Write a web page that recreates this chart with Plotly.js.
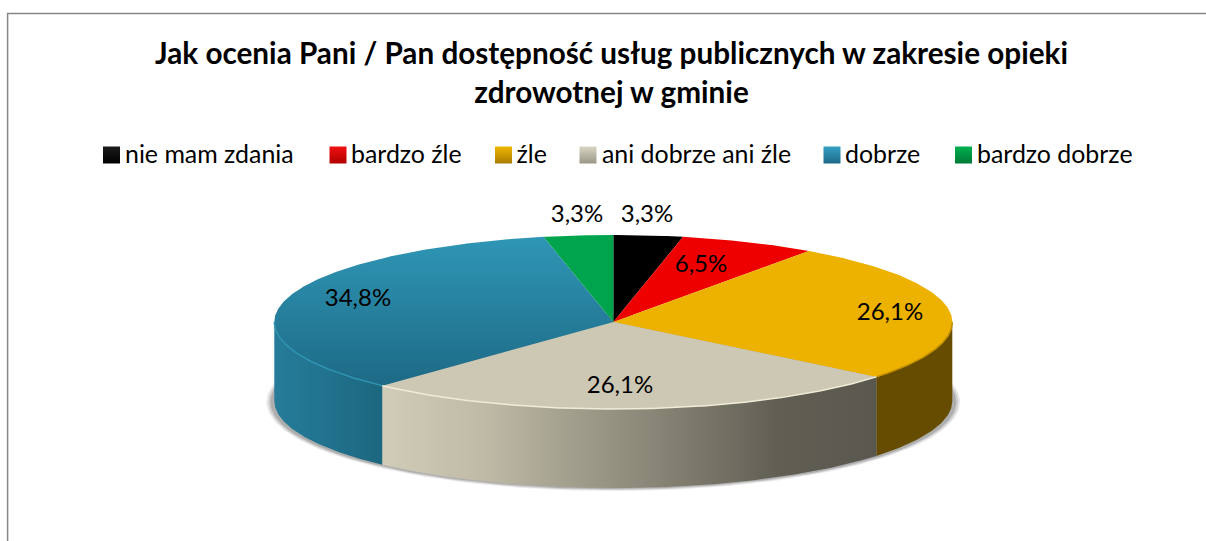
<!DOCTYPE html>
<html><head><meta charset="utf-8">
<script src="https://cdn.plot.ly/plotly-3.0.1.min.js"></script>
<style>html,body{margin:0;padding:0;background:#fff}#c{width:1206px;height:541px}</style>
</head><body><div id="c"></div>
<script>
const categories = ["nie mam zdania","bardzo źle","źle","ani dobrze ani źle","dobrze","bardzo dobrze"];
const values = [3.3,6.5,26.1,26.1,34.8,3.3];
const topColors = ["#000000","#ee0000","#edb100","#ccc8b4","#2a8aab","#00a44c"];
const labelX = [647,701,890,620,358,577];
const labelY = [216,266,314,387,300,216];
const legendX = [111.5,338,503.5,588,832,963.5];
const legendTextX = [125,351,516.5,602,845,977];
const FONT = "Lato, Carlito, Calibri, sans-serif";
const CX=613.3, CY=322, RX=339, RY=87, DEPTH=79;
const total = values.reduce((a,b)=>a+b,0);
const px = a => CX+RX*Math.sin(a), py = a => CY-RY*Math.cos(a);
function arc(a0,a1,dy){const n=Math.max(2,Math.ceil(Math.abs(a1-a0)/0.01));const xs=[],ys=[];
  for(let i=0;i<=n;i++){const a=a0+(a1-a0)*i/n;xs.push(px(a));ys.push(py(a)+(dy||0));}return {xs,ys};}
let start=0; const spans=values.map(v=>{const s=start;start+=v/total*2*Math.PI;return [s,start];});
const base={type:'scatter',hoverinfo:'skip',showlegend:false};
const traces=[];
[[347,89,0.10],[345,88,0.16],[343,87,0.22]].forEach(([rx,ry,o])=>{
  const xs=[],ys=[];for(let i=0;i<=240;i++){const a=i/240*2*Math.PI;xs.push(CX+rx*Math.sin(a));ys.push(CY+DEPTH+1-ry*Math.cos(a));}
  traces.push({...base,x:xs,y:ys,mode:'lines',line:{width:0},fill:'toself',fillcolor:`rgba(60,60,60,${o})`});
});
const wallFills={
  2:{solid:"#654c00"},
  3:{scale:[[0,"#d0ccb8"],[0.2,"#bfbba7"],[0.4,"#a09c8b"],[0.6,"#817e70"],[0.8,"#615e54"],[1,"#5a574e"]]},
  4:{scale:[[0,"#257c99"],[0.5,"#21728d"],[1,"#1c6780"]]}
};
const HALF=Math.PI/2, BOT=1.5*Math.PI;
spans.forEach(([s,e],i)=>{
  const a0=Math.max(s,HALF),a1=Math.min(e,BOT); if(a1<=a0) return;
  const t=arc(a0,a1,0),b=arc(a1,a0,DEPTH);
  const tr={...base,x:t.xs.concat(b.xs),y:t.ys.concat(b.ys),mode:'lines',line:{width:0},fill:'toself'};
  const f=wallFills[i];
  if(f&&f.scale) tr.fillgradient={type:'horizontal',colorscale:f.scale};
  else tr.fillcolor=f?f.solid:topColors[i];
  traces.push(tr);
});
spans.forEach(([s,e],i)=>{
  const t=arc(s,e,0);
  const tr={...base,x:[CX].concat(t.xs,[CX]),y:[CY].concat(t.ys,[CY]),mode:'lines',line:{width:0},fill:'toself',fillcolor:topColors[i]};
  if(i===4) tr.fillgradient={type:'vertical',colorscale:[[0,"#1d6a85"],[1,"#2f96b6"]]};
  traces.push(tr);
});
const rim={2:"#c09000",3:"#efecd8",4:"#2f93b3"};
spans.forEach(([s,e],i)=>{
  const a0=Math.max(s,HALF),a1=Math.min(e,BOT); if(a1<=a0||!rim[i]) return;
  const t=arc(a0,a1,0);
  traces.push({...base,x:t.xs,y:t.ys,mode:'lines',line:{width:1.5,color:rim[i]}});
});
traces.push({...base,x:labelX,y:labelY,mode:'text',textposition:'middle center',
  text:values.map(v=>v.toFixed(1).replace('.',',')+'%'),textfont:{family:FONT,size:24,color:'#000'}});
traces.push({...base,x:legendX,y:legendX.map(()=>155),mode:'markers',
  marker:{symbol:'square',size:17,color:["#1c1c1c","#f01010","#f0b800","#d8d5c5","#35a0c4","#00b050"],
    gradient:{type:'vertical',color:["#000000","#b00000","#a87c00","#9a9785","#1d6a85","#007a38"]},line:{width:0}}});
traces.push({...base,x:legendTextX,y:legendTextX.map(()=>157),mode:'text',textposition:'middle right',text:categories,
  textfont:{family:FONT,size:24.9,color:'#000'}});
const layout={
  width:1206,height:541,margin:{l:0,r:0,t:0,b:0},paper_bgcolor:'#fff',plot_bgcolor:'#fff',showlegend:false,hovermode:false,
  xaxis:{range:[0,1206],visible:false,fixedrange:true},
  yaxis:{range:[541,0],visible:false,fixedrange:true},
  title:{text:"<b>Jak ocenia Pani / Pan dostępność usług publicznych w zakresie opieki<br>zdrowotnej w gminie</b>",
    font:{family:FONT,size:29.7,color:'#000'},x:611.5/1206,xanchor:'center',y:1-64/541,yanchor:'top'},
  shapes:[{type:'path',path:'M 7.6 541 L 7.6 13.5 L 1206 13.5',line:{color:'#868686',width:1.5},layer:'below'}]
};
Plotly.newPlot('c',traces,layout,{displayModeBar:false,staticPlot:true});
</script></body></html>
